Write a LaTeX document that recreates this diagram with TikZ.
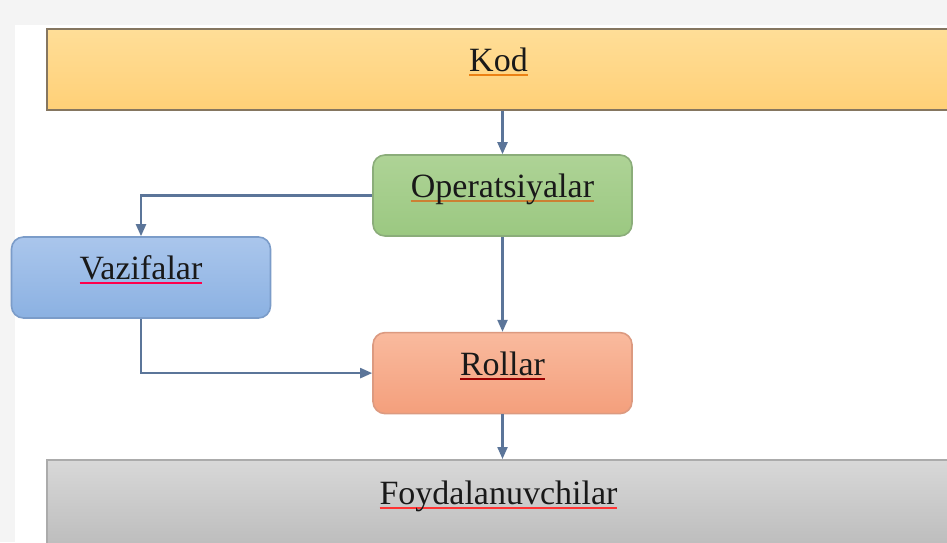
\documentclass[tikz,border=0pt]{standalone}
\usepackage{fontspec}
\setmainfont{Liberation Serif}
\usetikzlibrary{arrows.meta, positioning}

\definecolor{pagegray}{HTML}{F4F4F4}
\definecolor{linkblue}{HTML}{5B7599}
\definecolor{kodtop}{HTML}{FFDE98}\definecolor{kodbot}{HTML}{FFD077}\definecolor{kodline}{HTML}{857660}
\definecolor{optop}{HTML}{AED396}\definecolor{opbot}{HTML}{9BC881}\definecolor{opline}{HTML}{8BAD7A}
\definecolor{vztop}{HTML}{AAC6EC}\definecolor{vzbot}{HTML}{8BB1E2}\definecolor{vzline}{HTML}{7B9CC9}
\definecolor{rltop}{HTML}{F9BA9E}\definecolor{rlbot}{HTML}{F49F7C}\definecolor{rlline}{HTML}{DC9A80}
\definecolor{fytop}{HTML}{D8D8D8}\definecolor{fybot}{HTML}{BDBDBD}\definecolor{fyline}{HTML}{ABABAB}

% spell-check mark under a word
\newcommand{\spellmark}[2]{\setbox0\hbox{#2}\rlap{\color{#1}\rule[-4.5pt]{\wd0}{1.8pt}}\box0}

\begin{document}
\begin{tikzpicture}[x=1pt,y=1pt,
    box/.style={draw, line width=1.6pt, minimum width=259pt, minimum height=81pt, inner sep=0pt,
      rounded corners=12pt, font=\fontsize{34}{40}\selectfont, text=black!90,
      text height=24pt, text depth=20pt},
    bar/.style={box, rounded corners=0pt, minimum width=903pt, line width=2pt},
    link/.style={draw=linkblue, line width=2.2pt, -{Triangle[length=12pt,width=10pt]}}]

  \fill[pagegray] (0,0) rectangle (947,-542);
  \fill[white] (15,-25) rectangle (947,-542);
  \useasboundingbox (0,0) rectangle (947,-542);

  \node[bar, draw=kodline, top color=kodtop, bottom color=kodbot] (kod) at (498.5,-69) {\spellmark{orange!70!brown}{Kod}};
  \node[box, draw=opline, top color=optop, bottom color=opbot] (ops) at (502.5,-195.5) {\spellmark{brown!80!orange}{Operatsiyalar}};
  \node[box, draw=vzline, top color=vztop, bottom color=vzbot] (vaz) at (141,-277.5) {\spellmark{red!70!magenta}{Vazifalar}};
  \node[box, draw=rlline, top color=rltop, bottom color=rlbot] (rol) [below=95pt of ops] {\spellmark{red!60!black}{Rollar}};
  \node[bar, minimum height=85pt, draw=fyline, top color=fytop, bottom color=fybot] (foy) at (498.5,-502.5) {\spellmark{red!80}{Foydalanuvchilar}};

  \draw[link] (ops.north |- kod.south) -- (ops.north);
  \draw[link] (ops.west) -| (vaz.north);
  \draw[link] (ops.south) -- (rol.north);
  \draw[link] (vaz.south) |- (rol.west);
  \draw[link] (rol.south) -- (rol.south |- foy.north);
\end{tikzpicture}
\end{document}
